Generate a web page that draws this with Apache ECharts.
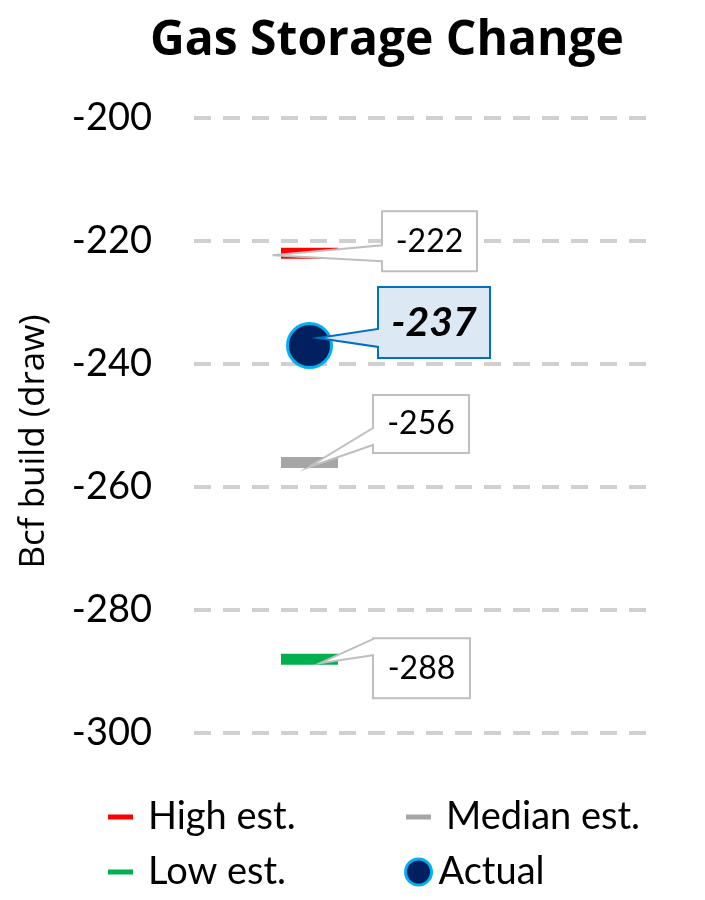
<!DOCTYPE html>
<html>
<head>
<meta charset="utf-8">
<script src="https://cdn.jsdelivr.net/npm/echarts@6/dist/echarts.min.js"></script>
<style>
  html, body { margin: 0; padding: 0; background: #ffffff; }
  #chart { width: 705px; height: 900px; }
</style>
</head>
<body>
<div id="chart"></div>
<script>
// ---- data ----
const categories = ['Week', ''];
const highEst = [-222];
const medianEst = [-256];
const lowEst = [-288];
const actual = [-237];
const yMin = -300, yMax = -200, yStep = 20;

// ---- callout layout (pixels, relative to the anchor point) ----
const calloutLayout = {
  high:   { box: [72.5, -42, 167.5, 18],  base: [-8, 8],      tip: [-37, 2] },
  actual: { box: [68.5, -58.6, 180.5, 12.4], base: [-16.6, 1.4], tip: [8.5, -7.6] },
  median: { box: [63.5, -67.4, 159.5, -9.4], base: [-34.4, -17.4], tip: [-1.5, 5] },
  low:    { box: [63.5, -21, 160.5, 39],  base: [-20, -4],    tip: [10.5, 4] }
};

const FONT = 'Lato';
const chart = echarts.init(document.getElementById('chart'), null, { renderer: 'canvas' });

function calloutSeries(name, values, layout, styleOpt) {
  return {
    type: 'custom',
    name: name + ' label',
    silent: true,
    z: 5,
    data: values.map((v, i) => [i, v]),
    renderItem: function (params, api) {
      const p = api.coord([api.value(0), api.value(1)]);
      const ax = p[0] + 2, ay = p[1];
      const b = layout.box;
      const x1 = ax + b[0], y1 = ay + b[1], x2 = ax + b[2], y2 = ay + b[3];
      const pts = [
        [x1, y1], [x2, y1], [x2, y2], [x1, y2],
        [x1, ay + layout.base[1]],
        [ax + layout.tip[0], ay + layout.tip[1]],
        [x1, ay + layout.base[0]]
      ];
      return {
        type: 'group',
        children: [
          { type: 'polygon', shape: { points: pts },
            style: { fill: styleOpt.fill, stroke: styleOpt.stroke, lineWidth: 2, lineJoin: 'miter' } },
          { type: 'text', x: (x1 + x2) / 2, y: (y1 + y2) / 2,
            style: { text: String(api.value(1)), fill: '#000', align: 'center', verticalAlign: 'middle',
                     font: styleOpt.font } }
        ]
      };
    }
  };
}

function dashIcon(w, h, barW, barH) {
  const y0 = (h - barH) / 2;
  return 'path://M0,0h0.01v0.01h-0.01z M0,' + y0 + 'h' + barW + 'v' + barH + 'h-' + barW + 'z M' + (w - 0.01) + ',' + (h - 0.01) + 'h0.01v0.01h-0.01z';
}

const legendText = { fontFamily: FONT, fontSize: 38, color: '#000' };

const option = {
  backgroundColor: '#ffffff',
  animation: false,
  title: {
    text: 'Gas Storage Change',
    left: 382, top: 12, textAlign: 'center',
    textStyle: { fontFamily: 'Open Sans', fontWeight: 'bold', fontSize: 48, color: '#000' }
  },
  grid: { left: 194, right: 57, top: 118, bottom: 167, containLabel: false },
  xAxis: {
    type: 'category', data: categories, boundaryGap: true,
    axisLine: { show: false }, axisTick: { show: false }, axisLabel: { show: false }, splitLine: { show: false }
  },
  yAxis: {
    type: 'value', min: yMin, max: yMax, interval: yStep,
    name: 'Bcf build (draw)', nameLocation: 'middle', nameGap: 142,
    nameTextStyle: { fontFamily: 'Open Sans', fontSize: 35, color: '#000', padding: [0, 32, 0, 0] },
    axisLine: { show: false }, axisTick: { show: false },
    axisLabel: { fontFamily: FONT, fontSize: 38, color: '#000', margin: 42 },
    splitLine: { show: true, lineStyle: { color: '#d0d0d0', width: 4, type: [17, 12] } }
  },
  legend: [
    { data: [{ name: 'High est.', icon: dashIcon(35, 5, 25, 5) }], left: 108, top: 798, padding: 0,
      itemWidth: 35, itemHeight: 5, itemStyle: { color: '#ff0000', borderWidth: 0 }, textStyle: legendText },
    { data: [{ name: 'Low est.', icon: dashIcon(35, 5, 25, 5) }], left: 108, top: 853, padding: 0,
      itemWidth: 35, itemHeight: 5, itemStyle: { color: '#00b050', borderWidth: 0 }, textStyle: legendText },
    { data: [{ name: 'Median est.', icon: dashIcon(35, 5, 25, 5) }], left: 406, top: 798, padding: 0,
      itemWidth: 35, itemHeight: 5, itemStyle: { color: '#a6a6a6', borderWidth: 0 }, textStyle: legendText },
    { data: [{ name: 'Actual', icon: 'circle' }], left: 404, top: 853, padding: 0,
      itemWidth: 30, itemHeight: 26, itemStyle: { color: '#002060', borderColor: '#00b0f0', borderWidth: 3 }, textStyle: legendText }
  ],
  series: [
    { name: 'High est.', type: 'scatter', data: highEst, symbol: 'rect', symbolSize: [57, 11], symbolOffset: [2, 0],
      itemStyle: { color: '#ff0000', opacity: 1 }, z: 3 },
    { name: 'Median est.', type: 'scatter', data: medianEst, symbol: 'rect', symbolSize: [57, 11], symbolOffset: [2, 0],
      itemStyle: { color: '#a6a6a6', opacity: 1 }, z: 3 },
    { name: 'Low est.', type: 'scatter', data: lowEst, symbol: 'rect', symbolSize: [57, 11], symbolOffset: [2, 0],
      itemStyle: { color: '#00b050', opacity: 1 }, z: 3 },
    { name: 'Actual', type: 'scatter', data: actual, symbol: 'circle', symbolSize: 44, symbolOffset: [2, 0],
      itemStyle: { color: '#002060', borderColor: '#00b0f0', borderWidth: 3, opacity: 1 }, z: 4 },
    calloutSeries('High est.', highEst, calloutLayout.high,
      { fill: '#ffffff', stroke: '#bfbfbf', font: '32px ' + FONT }),
    calloutSeries('Median est.', medianEst, calloutLayout.median,
      { fill: '#ffffff', stroke: '#bfbfbf', font: '32px ' + FONT }),
    calloutSeries('Low est.', lowEst, calloutLayout.low,
      { fill: '#ffffff', stroke: '#bfbfbf', font: '32px ' + FONT }),
    calloutSeries('Actual', actual, calloutLayout.actual,
      { fill: '#dde8f5', stroke: '#0070c0', font: 'italic bold 41px ' + FONT })
  ]
};
chart.setOption(option);
</script>
</body>
</html>
